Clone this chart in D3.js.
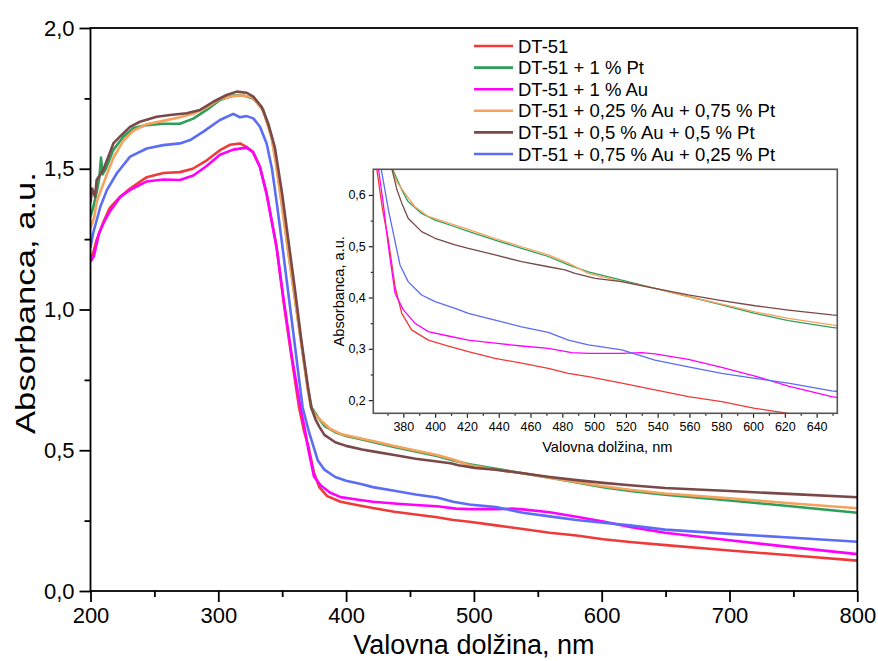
<!DOCTYPE html>
<html><head><meta charset="utf-8">
<script src="https://cdn.jsdelivr.net/npm/d3@7"></script>
<style>body{margin:0;background:#fff}svg{display:block}text{font-family:Arial,"Liberation Sans",sans-serif}</style>
</head><body><svg id="c" width="878" height="661"></svg>
<script>
const seriesNames = ["DT-51","DT-51 + 1 % Pt","DT-51 + 1 % Au","DT-51 + 0,25 % Au + 0,75 % Pt","DT-51 + 0,5 % Au + 0,5 % Pt","DT-51 + 0,75 % Au + 0,25 % Pt"];
const seriesColors = ["#F03A3A","#2E9E5B","#FF00FF","#F5A35C","#7A4848","#5B6CF5"];

const dt51 = [[200,1.18],[202,1.20],[205,1.25],[210,1.31],[215,1.36],[223,1.40],[231,1.43],[244,1.47],[257,1.485],[270,1.488],[280,1.50],[291,1.53],[301,1.565],[309,1.585],[317,1.59],[322,1.578],[327,1.56],[332.6,1.507],[337.8,1.413],[345.6,1.223],[351,1.03],[357,0.84],[363.2,0.652],[367,0.57],[370.6,0.512],[374.8,0.421],[379,0.369],[385.2,0.337],[395.7,0.317],[408.3,0.3055],[420.9,0.2945],[437.7,0.2815],[454.4,0.272],[471.2,0.262],[483.8,0.252],[496.4,0.246],[517.4,0.233],[538.3,0.22],[559.3,0.207],[580.3,0.197],[601.2,0.184],[622.2,0.174],[650,0.163],[700,0.144],[750,0.126],[800,0.108]];
const dt51Pt = [[200,1.33],[202,1.36],[205,1.42],[207,1.47],[208.2,1.54],[209.5,1.48],[212,1.50],[217.9,1.567],[225.7,1.614],[233.5,1.645],[243.9,1.655],[256.9,1.66],[270,1.66],[280.4,1.678],[290.9,1.709],[301.3,1.744],[311.7,1.76],[319.5,1.76],[327.3,1.75],[335.2,1.709],[341.7,1.614],[345,1.53],[350,1.37],[355,1.2],[360,1.04],[365,0.88],[370,0.72],[373,0.652],[379,0.61],[383,0.587],[391.5,0.564],[400,0.551],[412.5,0.538],[420.9,0.529],[437.7,0.512],[454.4,0.496],[471.2,0.48],[483.8,0.4635],[496.4,0.45],[517.4,0.434],[538.3,0.418],[559.3,0.402],[580.3,0.3855],[601.2,0.369],[622.2,0.355],[649.5,0.342],[700,0.322],[750,0.30],[800,0.278]];
const dt51Au = [[200,1.17],[202.7,1.19],[206.6,1.27],[210.5,1.31],[215.4,1.35],[223.3,1.40],[231,1.425],[244,1.455],[257,1.462],[270,1.46],[280.4,1.476],[290.9,1.51],[301.3,1.55],[311.7,1.568],[322.2,1.575],[327.4,1.558],[332.6,1.505],[337.8,1.41],[345.6,1.22],[351.3,1.03],[358,0.82],[364.3,0.652],[367.5,0.58],[370.6,0.499],[374.8,0.408],[380,0.376],[387.3,0.35],[395.7,0.3335],[408.3,0.325],[420.9,0.317],[437.7,0.311],[454.4,0.3055],[471.2,0.301],[485.9,0.2925],[496.4,0.291],[517.4,0.291],[530,0.2925],[538.3,0.29],[559.3,0.2795],[580.3,0.264],[601.2,0.247],[622.2,0.2275],[649.5,0.207],[700,0.18],[750,0.155],[800,0.131]];
const dt51Au25Pt75 = [[200,1.29],[203,1.33],[205,1.385],[212.8,1.48],[218,1.54],[225.7,1.60],[233.5,1.635],[243.9,1.658],[256.9,1.67],[270,1.683],[280.4,1.695],[290.9,1.718],[301.3,1.748],[311.7,1.758],[319.5,1.76],[327.3,1.752],[335.2,1.705],[341.7,1.61],[345,1.52],[350,1.36],[355,1.195],[360,1.035],[365,0.875],[370,0.715],[372.5,0.652],[376,0.625],[381,0.603],[387.3,0.577],[395.7,0.558],[412.5,0.541],[420.9,0.533],[437.7,0.515],[454.4,0.499],[471.2,0.483],[483.8,0.467],[496.4,0.447],[517.4,0.431],[538.3,0.418],[559.3,0.402],[580.3,0.387],[601.2,0.372],[622.2,0.3595],[649.5,0.3465],[700,0.329],[750,0.311],[800,0.294]];
const dt51Au50Pt50 = [[200,1.38],[201.3,1.43],[203.5,1.40],[204.8,1.46],[210,1.4955],[217.9,1.59],[223,1.614],[230.9,1.649],[238.7,1.667],[251.8,1.685],[262.2,1.691],[275.2,1.697],[285.7,1.709],[296.1,1.738],[306.5,1.762],[314.4,1.774],[322.2,1.77],[327.4,1.756],[333.9,1.72],[339.1,1.66],[344.3,1.575],[350,1.41],[355,1.24],[360,1.07],[365,0.89],[370,0.73],[372.7,0.652],[376,0.61],[379,0.584],[383,0.5545],[391.5,0.5285],[400,0.5155],[412.5,0.5025],[420.9,0.496],[437.7,0.483],[454.4,0.47],[471.2,0.46],[481.7,0.454],[488,0.447],[500.6,0.4375],[517.4,0.431],[538.3,0.418],[559.3,0.405],[580.3,0.394],[601.2,0.384],[622.2,0.3755],[649.5,0.366],[700,0.355],[750,0.344],[800,0.333]];
const dt51Au75Pt25 = [[200,1.22],[202,1.27],[207.7,1.365],[212.9,1.425],[220.6,1.484],[231,1.543],[244,1.572],[257,1.584],[270,1.59],[278,1.602],[288.3,1.632],[301.3,1.673],[311.7,1.695],[316.9,1.683],[322.2,1.687],[327.4,1.679],[332.6,1.649],[337.8,1.59],[342,1.50],[346,1.37],[350,1.23],[355,1.05],[360,0.87],[363,0.76],[366,0.652],[370.6,0.571],[377.9,0.4635],[383,0.431],[391.5,0.405],[400,0.392],[412.5,0.379],[420.9,0.369],[437.7,0.356],[454.4,0.343],[471.2,0.332],[483.8,0.317],[496.4,0.3075],[517.4,0.298],[538.3,0.278],[559.3,0.265],[580.3,0.252],[601.2,0.2425],[622.2,0.233],[649.5,0.218],[700,0.203],[750,0.189],[800,0.175]];

const allSeries = [dt51, dt51Pt, dt51Au, dt51Au25Pt75, dt51Au50Pt50, dt51Au75Pt25];

const xTicksMain = [200,300,400,500,600,700,800];
const yTicksMain = [0,0.5,1.0,1.5,2.0];
const xTicksInset = [380,400,420,440,460,480,500,520,540,560,580,600,620,640];
const yTicksInset = [0.2,0.3,0.4,0.5,0.6];

const fmt1 = v => d3.format(".1f")(v).replace(".", ",");
const svg = d3.select("#c");

// ---------- main plot ----------
const M = {l:90.5, r:857.3, t:28, b:591};
const x = d3.scaleLinear().domain([200,800]).range([M.l, M.r]);
const y = d3.scaleLinear().domain([0,2]).range([M.b, M.t]);

svg.append("clipPath").attr("id","mclip").append("rect")
  .attr("x",M.l).attr("y",M.t).attr("width",M.r-M.l).attr("height",M.b-M.t);

const line = d3.line().x(d=>x(d[0])).y(d=>y(d[1]));
const gm = svg.append("g").attr("clip-path","url(#mclip)");
allSeries.forEach((s,i)=>{
  gm.append("path").attr("d",line(s)).attr("fill","none")
    .attr("stroke",seriesColors[i]).attr("stroke-width",2.6).attr("stroke-linejoin","round");
});

// axes
const xAxis = svg.append("g").attr("transform",`translate(0,${M.b})`)
  .call(d3.axisBottom(x).tickValues(xTicksMain).tickSize(11).tickPadding(5).tickFormat(d3.format("d")));
const xMinor = svg.append("g").attr("transform",`translate(0,${M.b})`)
  .call(d3.axisBottom(x).tickValues(d3.range(250,800,100)).tickSize(6).tickFormat(""));
const yAxis = svg.append("g").attr("transform",`translate(${M.l},0)`)
  .call(d3.axisLeft(y).tickValues(yTicksMain).tickSize(11).tickPadding(5).tickFormat(fmt1));
const yMinor = svg.append("g").attr("transform",`translate(${M.l},0)`)
  .call(d3.axisLeft(y).tickValues([0.25,0.75,1.25,1.75]).tickSize(6).tickFormat(""));
[xAxis,xMinor,yAxis,yMinor].forEach(g=>{
  g.select(".domain").remove();
  g.selectAll("line").attr("stroke","#000").attr("stroke-width",1.8);
  g.selectAll("text").attr("fill","#000").style("font-size","22px");
});
svg.append("rect").attr("x",M.l).attr("y",M.t).attr("width",M.r-M.l).attr("height",M.b-M.t)
  .attr("fill","none").attr("stroke","#000").attr("stroke-width",1.8);

svg.append("text").attr("x",(M.l+M.r)/2).attr("y",654).attr("text-anchor","middle")
  .style("font-size","27px").text("Valovna dolžina, nm");
svg.append("text").attr("transform",`translate(35,303) rotate(-90)`).attr("text-anchor","middle")
  .attr("textLength",262).attr("lengthAdjust","spacingAndGlyphs")
  .style("font-size","27px").text("Absorbanca, a.u.");

// legend
const lg = svg.append("g");
seriesNames.forEach((n,i)=>{
  const yy = 46 + i*21.6;
  lg.append("line").attr("x1",474).attr("x2",513).attr("y1",yy).attr("y2",yy)
    .attr("stroke",seriesColors[i]).attr("stroke-width",2.6);
  lg.append("text").attr("x",518).attr("y",yy).attr("dy","0.36em").style("font-size","18.5px").text(n);
});

// ---------- inset ----------
const I = {l:373.3, r:837.3, t:169.3, b:413.3};
const xi = d3.scaleLinear().domain([361.1,653]).range([I.l, I.r]);
const yi = d3.scaleLinear().domain([0.1743,0.65]).range([I.b, I.t]);
svg.append("rect").attr("x",I.l).attr("y",I.t).attr("width",I.r-I.l).attr("height",I.b-I.t).attr("fill","#fff");
svg.append("clipPath").attr("id","iclip").append("rect")
  .attr("x",I.l).attr("y",I.t).attr("width",I.r-I.l).attr("height",I.b-I.t);
const linei = d3.line().x(d=>xi(d[0])).y(d=>yi(d[1]));
const gi = svg.append("g").attr("clip-path","url(#iclip)");
allSeries.forEach((s,i)=>{
  gi.append("path").attr("d",linei(s)).attr("fill","none")
    .attr("stroke",seriesColors[i]).attr("stroke-width",1.3).attr("stroke-linejoin","round");
});
const xiA = svg.append("g").attr("transform",`translate(0,${I.b})`)
  .call(d3.axisBottom(xi).tickValues(xTicksInset).tickSize(4.5).tickPadding(4).tickFormat(d3.format("d")));
const xiM = svg.append("g").attr("transform",`translate(0,${I.b})`)
  .call(d3.axisBottom(xi).tickValues(d3.range(370,660,20)).tickSize(2.5).tickFormat(""));
const yiA = svg.append("g").attr("transform",`translate(${I.l},0)`)
  .call(d3.axisLeft(yi).tickValues(yTicksInset).tickSize(4.5).tickPadding(3).tickFormat(fmt1));
const yiM = svg.append("g").attr("transform",`translate(${I.l},0)`)
  .call(d3.axisLeft(yi).tickValues([0.25,0.35,0.45,0.55]).tickSize(2.5).tickFormat(""));
[xiA,xiM,yiA,yiM].forEach(g=>{
  g.select(".domain").remove();
  g.selectAll("line").attr("stroke","#222").attr("stroke-width",1.2);
  g.selectAll("text").attr("fill","#000").style("font-size","12.5px");
});
svg.append("rect").attr("x",I.l).attr("y",I.t).attr("width",I.r-I.l).attr("height",I.b-I.t)
  .attr("fill","none").attr("stroke","#555").attr("stroke-width",1.6);
svg.append("text").attr("x",(I.l+I.r)/2+2).attr("y",452).attr("text-anchor","middle")
  .style("font-size","14.6px").text("Valovna dolžina, nm");
svg.append("text").attr("transform",`translate(344,${(I.t+I.b)/2}) rotate(-90)`).attr("text-anchor","middle")
  .style("font-size","14.6px").text("Absorbanca, a.u.");
</script></body></html>
